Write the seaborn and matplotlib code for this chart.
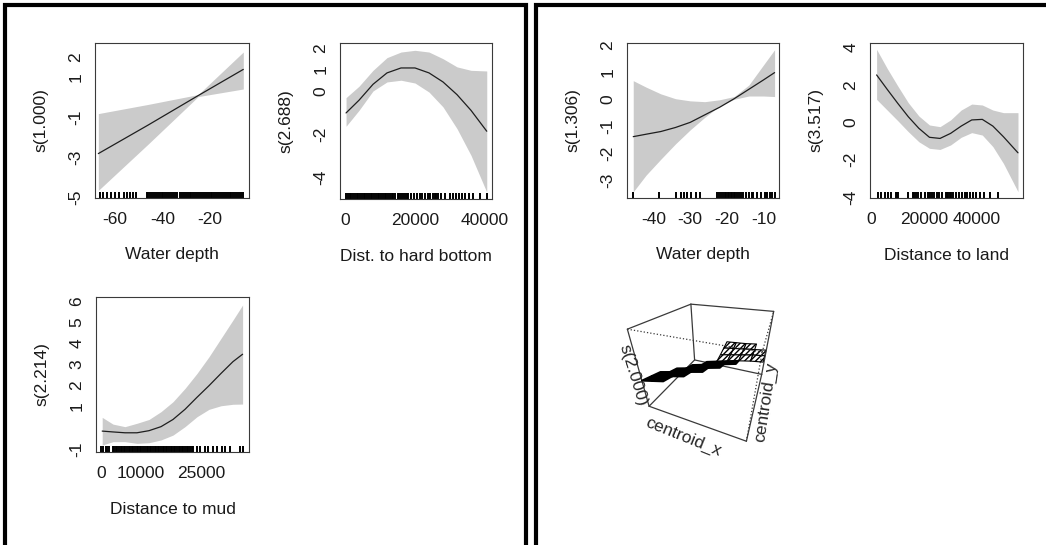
import numpy as np
import matplotlib
matplotlib.use("Agg")
import matplotlib.pyplot as plt
from matplotlib.lines import Line2D
from mpl_toolkits.mplot3d.art3d import Poly3DCollection
import seaborn as sns

# ---------------- smooth terms, model 1 ----------------
depth1_x = [-67, -46, -25, -6]
depth1_fit = [-2.83, -1.40, 0.07, 1.38]
depth1_lo = [-4.67, -2.35, 0.02, 0.40]
depth1_hi = [-0.83, -0.37, 0.12, 2.25]
depth1_rug = [-66.3, -64.9, -63.2, -61.8, -60.0, -58.2, -56.3, -54.9, -53.7, -52.3, -51.1,
              -46.6, -46.0, -45.2, -44.4, -43.6, -42.8, -42.0, -41.2, -40.4, -39.6, -38.8,
              -38.0, -37.2, -36.4, -35.6, -34.8, -34.0, -32.6, -31.8, -31.0, -30.2, -29.4,
              -28.6, -27.8, -27.0, -26.2, -25.4, -24.6, -23.8, -23.0, -22.2, -21.4, -20.6,
              -19.8, -19.0, -18.2, -17.4, -16.6, -15.8, -15.0, -14.2, -13.4, -12.6, -11.8,
              -11.0, -10.2, -9.4, -8.6, -7.8, -7.0, -6.3]

hard_x = [300, 4000, 8000, 12000, 16000, 20000, 24000, 28000, 32000, 36000, 40500]
hard_fit = [-1.02, -0.43, 0.31, 0.84, 1.07, 1.07, 0.84, 0.42, -0.17, -0.90, -1.87]
hard_lo = [-1.64, -0.90, 0.00, 0.42, 0.50, 0.37, -0.05, -0.74, -1.75, -2.99, -4.70]
hard_hi = [-0.31, 0.22, 0.96, 1.55, 1.81, 1.89, 1.81, 1.50, 1.12, 0.96, 0.93]
hard_rug = [300, 800, 1300, 1800, 2300, 2800, 3300, 3800, 4300, 4800, 5300, 5800, 6300,
            6800, 7300, 7800, 8300, 8800, 9300, 9800, 10300, 10800, 11300, 11800, 12300,
            12800, 13300, 13800, 14300, 15000, 15500, 16000, 16500, 17000, 17600, 18100,
            18900, 19600, 20500, 21300, 22100, 22800, 23700, 24400, 25100, 25600, 26100,
            26600, 27500, 28500, 29900, 30900, 31800, 32600, 33300, 34300, 35400, 36600,
            38600, 40500]

mud_x = [300, 3000, 6000, 9000, 12000, 15000, 18000, 21000, 24000, 27000, 30000, 33000, 35400]
mud_fit = [-0.16, -0.20, -0.24, -0.24, -0.14, 0.05, 0.39, 0.87, 1.44, 1.99, 2.57, 3.13, 3.48]
mud_lo = [-0.82, -0.66, -0.66, -0.74, -0.71, -0.58, -0.35, 0.05, 0.52, 0.87, 1.04, 1.11, 1.12]
mud_hi = [0.49, 0.17, 0.05, 0.21, 0.39, 0.76, 1.23, 1.86, 2.57, 3.36, 4.23, 5.10, 5.81]
mud_rug = [100, 500, 1200, 1600, 2000, 2900, 3300, 3700, 4100, 4500, 4900, 5300, 5700, 6100,
           6500, 6900, 7300, 7700, 8100, 8500, 8900, 9300, 9700, 10100, 10500, 11000, 11400,
           11800, 12200, 12600, 13000, 13400, 13800, 14200, 14600, 15000, 15400, 15800,
           16200, 16600, 17000, 17400, 17800, 18200, 18600, 19000, 19400, 19800, 20200,
           20600, 21000, 21400, 21800, 22200, 22700, 23100, 23900, 24800, 26000, 26800,
           28100, 28900, 30200, 31000, 32300, 34800, 35400]

# ---------------- smooth terms, model 2 ----------------
depth2_x = [-45.5, -42, -38, -34, -30, -26, -22, -18, -14, -10, -7]
depth2_fit = [-1.39, -1.30, -1.20, -1.05, -0.86, -0.58, -0.30, 0.02, 0.37, 0.72, 0.99]
depth2_lo = [-3.44, -2.82, -2.23, -1.66, -1.14, -0.67, -0.25, 0.00, 0.12, 0.12, 0.10]
depth2_hi = [0.69, 0.45, 0.20, 0.02, -0.06, -0.09, -0.02, 0.10, 0.53, 1.28, 1.84]
depth2_rug = [-45.5, -38.6, -33.8, -32.5, -31.6, -30.8, -29.8, -28.5, -27.3, -22.8, -22.2,
              -21.6, -21.0, -20.5, -20.1, -19.7, -19.3, -18.9, -18.5, -18.1, -17.7, -17.3,
              -16.8, -16.2, -15.6, -14.9, -14.0, -13.1, -12.8, -11.9, -10.8, -9.6, -9.0,
              -8.3, -7.6, -7.0]

land_x = [2000, 6000, 10000, 14000, 18000, 22000, 26000, 30000, 34000, 38000, 42000,
          46000, 50000, 55500]
land_fit = [2.54, 1.77, 1.02, 0.30, -0.32, -0.80, -0.86, -0.59, -0.20, 0.13, 0.16, -0.20,
            -0.77, -1.63]
land_lo = [1.23, 0.66, 0.09, -0.50, -1.04, -1.39, -1.45, -1.21, -0.80, -0.55, -0.68, -1.30,
           -2.20, -3.71]
land_hi = [3.91, 2.89, 1.95, 1.05, 0.34, -0.14, -0.23, 0.13, 0.66, 0.98, 0.93, 0.66, 0.52,
           0.52]
land_rug = [2500, 3800, 5300, 6500, 7500, 9400, 9700, 10000, 13800, 15600, 16300, 16900,
            17500, 18800, 20300, 21300, 22100, 23100, 23800, 24800, 25600, 26900, 28100,
            28600, 29100, 29600, 30000, 31000, 32000, 33100, 34400, 35300, 36300, 37500,
            38500, 39800, 41300, 42500, 44800, 47800]

# spatial smooth s(centroid_x, centroid_y) on a scaled grid (rows: centroid_y)
surf_x = [0.0, 0.125, 0.25, 0.375, 0.5, 0.625, 0.75, 0.875, 1.0]
surf_y = [0.0, 0.125, 0.25, 0.375, 0.5, 0.625, 0.75, 0.875, 1.0]
nan = np.nan
surf_z = [[0.40, 0.44, 0.48, nan, nan, nan, nan, nan, nan],
          [0.36, 0.40, 0.44, 0.48, nan, nan, nan, nan, nan],
          [0.32, 0.36, 0.40, 0.44, 0.48, nan, nan, nan, nan],
          [nan, 0.32, 0.36, 0.40, 0.44, 0.48, nan, nan, nan],
          [nan, nan, 0.32, 0.36, 0.40, 0.44, 0.48, nan, nan],
          [nan, nan, nan, 0.32, 0.36, 0.40, 0.44, 0.47, 0.49],
          [nan, nan, nan, nan, 0.39, 0.42, 0.45, 0.48, 0.50],
          [nan, nan, nan, nan, 0.43, 0.45, 0.47, 0.49, 0.51],
          [nan, nan, nan, nan, 0.47, 0.48, 0.49, 0.51, nan]]

sns.set_style("white")
plt.rcParams["font.family"] = ["Liberation Sans", "DejaVu Sans"]
plt.rcParams["axes.unicode_minus"] = False
plt.rcParams["hatch.linewidth"] = 1.0

W, H = 1046, 545
FS = 12.5
fig = plt.figure(figsize=(W / 100, H / 100), dpi=100)


def px_axes(l, t, r, b, **kw):
    return fig.add_axes([l / W, 1 - b / H, (r - l) / W, (b - t) / H], **kw)


def smooth_panel(box, x, fit, lo, hi, rug, xlim, ylim, xticks, xlabs, yticks, ylabs,
                 xlabel, ylabel):
    ax = px_axes(*box)
    hpx = box[3] - box[1]
    wpx = box[2] - box[0]
    ax.fill_between(x, lo, hi, color="#cbcbcb", linewidth=0)
    sns.lineplot(x=x, y=fit, ax=ax, color="#1e1e1e", linewidth=0.9,
                 estimator=None, sort=False)
    sns.rugplot(x=rug, ax=ax, height=0.038, color="black", linewidth=1.4,
                expand_margins=False)
    ax.set_xlim(*xlim)
    ax.set_ylim(*ylim)
    ax.set_xticks(xticks)
    ax.set_xticklabels(xlabs, fontsize=FS)
    ax.set_yticks(yticks)
    ax.set_yticklabels(ylabs, fontsize=FS, rotation=90, va="center")
    ax.tick_params(axis="both", direction="out", length=5.8, width=0.8,
                   color="#333333", labelcolor="#1a1a1a")
    ax.tick_params(axis="x", pad=4.6)
    ax.tick_params(axis="y", pad=2.4)
    for s in ax.spines.values():
        s.set_visible(True)
        s.set_color("#3a3a3a")
        s.set_linewidth(0.8)
    ax.set_xlabel(xlabel, fontsize=FS, color="#1a1a1a")
    ax.set_ylabel(ylabel, fontsize=FS, color="#1a1a1a")
    ax.xaxis.set_label_coords(0.5, -57 / hpx)
    ax.xaxis.label.set_va("center")
    ax.yaxis.set_label_coords(-54 / wpx, 0.5)
    ax.yaxis.label.set_va("center")
    ax.grid(False)
    return ax


smooth_panel((95, 43, 249, 198), depth1_x, depth1_fit, depth1_lo, depth1_hi, depth1_rug,
             (-68.4, -3.6), (-5.05, 2.7),
             [-60, -50, -40, -30, -20, -10], ["-60", "", "-40", "", "-20", ""],
             [-5, -4, -3, -2, -1, 0, 1, 2], ["-5", "", "-3", "", "-1", "", "1", "2"],
             "Water depth", "s(1.000)")

smooth_panel((340, 43, 492, 199), hard_x, hard_fit, hard_lo, hard_hi, hard_rug,
             (-1430, 42000), (-5.02, 2.23),
             [0, 10000, 20000, 30000, 40000], ["0", "", "20000", "", "40000"],
             [-4, -3, -2, -1, 0, 1, 2], ["-4", "", "-2", "", "0", "1", "2"],
             "Dist. to hard bottom", "s(2.688)")

smooth_panel((96, 297, 249, 452), mud_x, mud_fit, mud_lo, mud_hi, mud_rug,
             (-1250, 37000), (-1.15, 6.19),
             [0, 5000, 10000, 15000, 20000, 25000, 30000, 35000],
             ["0", "", "10000", "", "", "25000", "", ""],
             [-1, 0, 1, 2, 3, 4, 5, 6], ["-1", "", "1", "2", "3", "4", "5", "6"],
             "Distance to mud", "s(2.214)")

smooth_panel((627, 43, 779, 198), depth2_x, depth2_fit, depth2_lo, depth2_hi, depth2_rug,
             (-47.2, -5.8), (-3.67, 2.09),
             [-40, -30, -20, -10], ["-40", "-30", "-20", "-10"],
             [-3, -2, -1, 0, 1, 2], ["-3", "-2", "-1", "0", "1", "2"],
             "Water depth", "s(1.306)")

smooth_panel((870, 43, 1023, 198), land_x, land_fit, land_lo, land_hi, land_rug,
             (-500, 57400), (-4.05, 4.25),
             [0, 10000, 20000, 30000, 40000, 50000], ["0", "", "20000", "", "40000", ""],
             [-4, -2, 0, 2, 4], ["-4", "-2", "0", "2", "4"],
             "Distance to land", "s(3.517)")

# ---------------- perspective plot of the spatial term ----------------
ax3 = px_axes(610, 263, 810, 458, projection="3d")
ax3.set_axis_off()
ax3.set_proj_type("persp", focal_length=0.15)
ax3.view_init(elev=30, azim=-68)
ax3.set_xlim(0, 1)
ax3.set_ylim(0, 1)
ax3.set_zlim(0, 1)
ax3.set_box_aspect((4, 4, 3.3), zoom=0.78)

# bounding box: front edges dotted, the rest solid
c = {"A": (0, 0), "B": (0, 1), "C": (1, 1), "D": (1, 0)}
solid = [("A", 1, "B", 1), ("B", 1, "C", 1), ("A", 1, "A", 0), ("B", 1, "B", 0),
         ("C", 1, "C", 0), ("A", 0, "B", 0), ("B", 0, "C", 0), ("A", 0, "D", 0),
         ("D", 0, "C", 0)]
dotted = [("A", 1, "D", 1), ("D", 1, "C", 1), ("D", 1, "D", 0)]
for edges, ls in ((solid, "-"), (dotted, ":")):
    for p, zp, q, zq in edges:
        ax3.plot([c[p][0], c[q][0]], [c[p][1], c[q][1]], [zp, zq],
                 color="#3a3a3a", linewidth=0.9, linestyle=ls)

# surface facets where all four grid corners carry a value; the raised
# north-east lobe is drawn as an open mesh, the rest as a dense band
Z = np.array(surf_z)
band, lobe = [], []
for j in range(len(surf_y) - 1):
    for i in range(len(surf_x) - 1):
        zz = [Z[j, i], Z[j, i + 1], Z[j + 1, i + 1], Z[j + 1, i]]
        if np.all(np.isfinite(zz)):
            q = [(surf_x[i], surf_y[j], zz[0]), (surf_x[i + 1], surf_y[j], zz[1]),
                 (surf_x[i + 1], surf_y[j + 1], zz[2]), (surf_x[i], surf_y[j + 1], zz[3])]
            (lobe if j >= 5 else band).append(q)
ax3.add_collection3d(Poly3DCollection(band, facecolor="black", edgecolor="black",
                                      linewidth=1.4))
ax3.add_collection3d(Poly3DCollection(lobe, facecolor="white", edgecolor="black",
                                      linewidth=0.8, hatch="//////"))

ax3.text(0.5, -0.16, 0, "centroid_x", zdir="x", ha="center", va="center", fontsize=FS)
ax3.text(1.1, 0.5, 0, "centroid_y", zdir="y", ha="center", va="center", fontsize=FS)
ax3.text(-0.04, -0.04, 0.5, "s(2.000)", zdir=(0, 0, -1), ha="center", va="center",
         fontsize=FS)

# ---------------- frames around the two model panels ----------------
def frame(points):
    xs = [p[0] / W for p in points]
    ys = [1 - p[1] / H for p in points]
    fig.add_artist(Line2D(xs, ys, transform=fig.transFigure, color="black",
                          linewidth=3.0, solid_joinstyle="miter"))


frame([(5, 545), (5, 5), (525.5, 5), (525.5, 545)])
frame([(1046, 5), (535.5, 5), (535.5, 545)])

fig.savefig("out.png", dpi=100)
